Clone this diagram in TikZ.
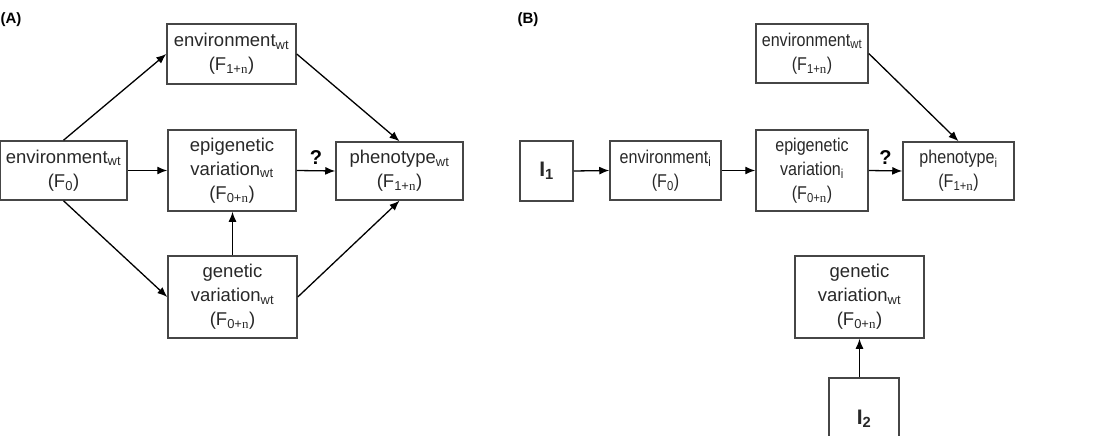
\documentclass[tikz,border=0pt]{standalone}
\usepackage{fontspec}
\setmainfont{Liberation Sans}
\newfontfamily\serifn{Liberation Serif}
\newfontfamily\narrowsf[FakeStretch=0.87]{Liberation Sans}
\usepackage{xcolor}
\usepackage{tikz}
\definecolor{boxcolor}{RGB}{70, 70, 70}
\definecolor{textcolor}{RGB}{40, 40, 40}
\usetikzlibrary{arrows.meta, positioning, calc}
\newcommand{\Fgen}[1]{(F\textsubscript{#1})}
\newcommand{\nn}{{\serifn n}}

\begin{document}
\begin{tikzpicture}[
    x=1pt, y=-1pt,
    box/.style={rectangle, draw=boxcolor, line width=1.5pt, inner sep=0pt, align=center,
        font=\fontsize{18.5}{24}\selectfont, text=textcolor},
    boxB/.style={box, font=\fontsize{18.5}{24}\narrowsf},
    arr/.style={-{Latex[length=10pt, width=8pt]}, line width=1.3pt, black},
    qmark/.style={font=\fontsize{20}{22}\selectfont\bfseries},
    panel/.style={font=\fontsize{15}{17}\selectfont\bfseries},
    inbox/.style={box, font=\fontsize{21}{24}\selectfont\bfseries}
]
    \useasboundingbox (0,0) rectangle (1101,436);
    \clip (0,0) rectangle (1101,436);

    % Panel A
    \node[panel] (labA) at (11, 20) {(A)};
    \node[box, minimum width=127pt, minimum height=59pt] (envA) at (63.5, 170.5) {environment\textsubscript{wt}\\\Fgen{0}};
    \node[box, minimum width=129pt, minimum height=60pt] (envwtA) at (231.5, 54) {environment\textsubscript{wt}\\\Fgen{1+\nn}};
    \node[box, minimum width=128pt, minimum height=81pt] (epiA) at (232, 170.5) {epigenetic\\variation\textsubscript{wt}\\\Fgen{0+\nn}};
    \node[box, minimum width=129pt, minimum height=82pt] (genA) at (232.5, 297) {genetic\\variation\textsubscript{wt}\\\Fgen{0+\nn}};
    \node[box, minimum width=127pt, minimum height=58pt] (phenoA) at (399.5, 171) {phenotype\textsubscript{wt}\\\Fgen{1+\nn}};

    \draw[arr] (envA.north) -- (envwtA.west);
    \draw[arr] (envA.east) -- (epiA.west);
    \draw[arr] (envA.south) -- (genA.west);
    \draw[arr] (envwtA.east) -- (phenoA.north);
    \draw[arr] (epiA.east) -- node[qmark, above=2pt] (qA) {?} (phenoA.west);
    \draw[arr] (genA.north) -- (genA.north |- epiA.south);
    \draw[arr] (genA.east) -- (phenoA.south);

    % Panel B
    \node[panel] (labB) at (528, 20) {(B)};
    \node[inbox, minimum width=53pt, minimum height=60pt] (iA) at (546.5, 171) {I\textsubscript{1}};
    \node[boxB, minimum width=111pt, minimum height=59pt] (envB) at (665.5, 170.5) {environment\textsubscript{i}\\\Fgen{0}};
    \node[boxB, minimum width=112pt, minimum height=59pt] (envwtB) at (812, 53.5) {environment\textsubscript{wt}\\\Fgen{1+\nn}};
    \node[boxB, minimum width=112pt, minimum height=81pt] (epiB) at (812, 170.5) {epigenetic\\variation\textsubscript{i}\\\Fgen{0+\nn}};
    \node[boxB, minimum width=111pt, minimum height=58pt] (phenoB) at (958.5, 171) {phenotype\textsubscript{i}\\\Fgen{1+\nn}};
    \node[box, minimum width=129pt, minimum height=82pt] (genB) at (859.5, 297) {genetic\\variation\textsubscript{wt}\\\Fgen{0+\nn}};
    \node[inbox, minimum width=70pt, minimum height=82pt] (iB) at (864, 419) {I\textsubscript{2}};

    \draw[arr] (iA.east) -- (envB.west);
    \draw[arr] (envB.east) -- (epiB.west);
    \draw[arr] (epiB.east) -- node[qmark, above=2pt] (qB) {?} (phenoB.west);
    \draw[arr] (envwtB.east) -- (phenoB.north);
    \draw[arr] (iB.north -| genB.south) -- (genB.south);
\end{tikzpicture}
\end{document}
